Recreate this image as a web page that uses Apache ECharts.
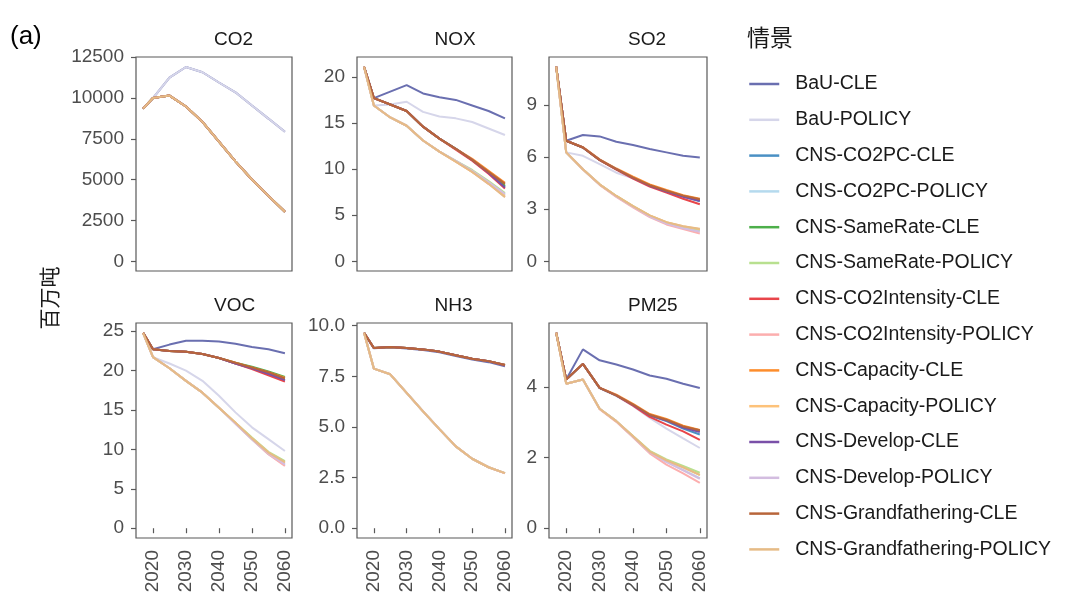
<!DOCTYPE html>
<html><head><meta charset="utf-8">
<script src="https://cdn.jsdelivr.net/npm/echarts@6/dist/echarts.min.js"></script>
<style>html,body{margin:0;padding:0;background:#fff}#c{width:1071px;height:601px}</style>
</head><body><div id="c"></div><script>
const years = [2017, 2020, 2025, 2030, 2035, 2040, 2045, 2050, 2055, 2060];
const xTicks = [2020, 2030, 2040, 2050, 2060];
const scenarios = ['BaU-CLE','BaU-POLICY','CNS-CO2PC-CLE','CNS-CO2PC-POLICY','CNS-SameRate-CLE','CNS-SameRate-POLICY','CNS-CO2Intensity-CLE','CNS-CO2Intensity-POLICY','CNS-Capacity-CLE','CNS-Capacity-POLICY','CNS-Develop-CLE','CNS-Develop-POLICY','CNS-Grandfathering-CLE','CNS-Grandfathering-POLICY'];
const colors = ['#6a6fb0','#d6d6ea','#4a90c4','#b5daee','#4daf4a','#b8e08f','#e8454a','#fcaeae','#fd8d2c','#fdc27a','#7a50a8','#d3bde0','#b8653a','#e6bb86'];
const panels = ['CO2','NOX','SO2','VOC','NH3','PM25'];
const yTicks = {
  CO2: [0, 2500, 5000, 7500, 10000, 12500],
  NOX: [0, 5, 10, 15, 20],
  SO2: [0, 3, 6, 9],
  VOC: [0, 5, 10, 15, 20, 25],
  NH3: [0, 2.5, 5, 7.5, 10],
  PM25: [0, 2, 4]
};

// values per scenario (same order as scenarios), per year
const CO2 = [
  [9350,10000,11250,11900,11580,10950,10350,9540,8740,7930],
  [9350,10000,11250,11900,11580,10950,10350,9540,8740,7930],
  [9350,10000,10150,9480,8540,7330,6120,5010,4005,3040],
  [9350,10000,10150,9480,8540,7330,6120,5010,4005,3040],
  [9350,10000,10150,9480,8540,7330,6120,5010,4005,3040],
  [9350,10000,10150,9480,8540,7330,6120,5010,4005,3040],
  [9350,10000,10150,9480,8540,7330,6120,5010,4005,3040],
  [9350,10000,10150,9480,8540,7330,6120,5010,4005,3040],
  [9350,10000,10150,9480,8540,7330,6120,5010,4005,3040],
  [9350,10000,10150,9480,8540,7330,6120,5010,4005,3040],
  [9350,10000,10150,9480,8540,7330,6120,5010,4005,3040],
  [9350,10000,10150,9480,8540,7330,6120,5010,4005,3040],
  [9350,10000,10150,9480,8540,7330,6120,5010,4005,3040],
  [9350,10000,10150,9480,8540,7330,6120,5010,4005,3040]
];
const NOX = [
  [21.1,17.7,18.4,19.1,18.2,17.8,17.5,16.9,16.3,15.5],
  [21.1,16.9,17.0,17.3,16.2,15.7,15.5,15.1,14.4,13.7],
  [21.1,17.7,17.0,16.3,14.6,13.3,12.2,11.0,9.6,8.1],
  [21.1,16.9,15.6,14.7,13.1,11.9,10.9,9.8,8.6,7.2],
  [21.1,17.7,17.0,16.3,14.6,13.3,12.2,11.0,9.7,8.2],
  [21.1,16.9,15.6,14.7,13.1,11.9,10.9,9.9,8.7,7.4],
  [21.1,17.7,17.0,16.3,14.6,13.3,12.1,10.9,9.5,7.9],
  [21.1,16.9,15.6,14.7,13.1,11.9,10.8,9.7,8.4,7.0],
  [21.1,17.7,17.0,16.3,14.6,13.3,12.2,11.1,9.8,8.5],
  [21.1,16.9,15.6,14.7,13.1,11.9,10.8,9.7,8.5,7.1],
  [21.1,17.7,17.0,16.3,14.6,13.3,12.2,11.0,9.6,8.0],
  [21.1,16.9,15.6,14.7,13.1,11.9,10.9,9.8,8.6,7.3],
  [21.1,17.7,17.0,16.3,14.6,13.3,12.2,11.0,9.7,8.4],
  [21.1,16.9,15.6,14.7,13.1,11.9,10.8,9.7,8.4,6.95]
];
const SO2 = [
  [11.2,6.94,7.27,7.19,6.88,6.69,6.46,6.27,6.07,5.98],
  [11.2,6.27,6.07,5.59,5.1,4.78,4.35,4.02,3.74,3.52],
  [11.2,6.94,6.55,5.84,5.3,4.82,4.36,4.02,3.72,3.45],
  [11.2,6.27,5.3,4.42,3.74,3.15,2.6,2.2,1.95,1.75],
  [11.2,6.94,6.55,5.84,5.3,4.82,4.38,4.05,3.75,3.52],
  [11.2,6.27,5.3,4.43,3.76,3.17,2.63,2.23,1.98,1.8],
  [11.2,6.94,6.55,5.82,5.27,4.76,4.3,3.95,3.6,3.28],
  [11.2,6.27,5.28,4.4,3.7,3.1,2.54,2.12,1.85,1.6],
  [11.2,6.94,6.57,5.87,5.34,4.87,4.43,4.1,3.8,3.6],
  [11.2,6.27,5.3,4.43,3.76,3.18,2.64,2.25,2.02,1.85],
  [11.2,6.94,6.55,5.84,5.3,4.8,4.35,4.02,3.72,3.48],
  [11.2,6.27,5.3,4.42,3.73,3.14,2.58,2.17,1.9,1.7],
  [11.2,6.94,6.55,5.84,5.3,4.82,4.38,4.06,3.78,3.57],
  [11.2,6.27,5.3,4.43,3.76,3.18,2.64,2.25,2.02,1.87]
];
const VOC = [
  [24.8,22.7,23.3,23.8,23.8,23.7,23.4,23.0,22.7,22.2],
  [24.8,21.7,20.9,20.0,18.7,16.8,14.7,12.8,11.3,9.8],
  [24.8,22.7,22.5,22.4,22.1,21.6,20.9,20.3,19.6,18.8],
  [24.8,21.7,20.3,18.7,17.2,15.3,13.3,11.3,9.4,8.0],
  [24.8,22.7,22.5,22.4,22.1,21.6,21.0,20.5,19.9,19.2],
  [24.8,21.7,20.3,18.7,17.2,15.3,13.4,11.5,9.7,8.5],
  [24.8,22.7,22.5,22.4,22.1,21.6,20.9,20.2,19.4,18.6],
  [24.8,21.7,20.3,18.7,17.2,15.3,13.3,11.3,9.4,7.9],
  [24.8,22.7,22.5,22.4,22.1,21.6,21.0,20.4,19.8,19.1],
  [24.8,21.7,20.3,18.7,17.2,15.3,13.4,11.4,9.6,8.3],
  [24.8,22.7,22.5,22.4,22.1,21.6,20.9,20.3,19.6,18.8],
  [24.8,21.7,20.3,18.7,17.2,15.3,13.3,11.3,9.5,8.1],
  [24.8,22.7,22.5,22.4,22.1,21.6,21.0,20.4,19.8,19.0],
  [24.8,21.7,20.3,18.7,17.2,15.3,13.4,11.4,9.6,8.4]
];
const NH3 = [
  [9.65,8.88,8.93,8.87,8.8,8.69,8.5,8.33,8.2,8.0],
  [9.65,7.88,7.6,6.68,5.77,4.89,4.04,3.43,3.01,2.72],
  [9.65,8.9,8.95,8.9,8.83,8.72,8.54,8.37,8.25,8.06],
  [9.65,7.88,7.6,6.68,5.77,4.89,4.04,3.43,3.01,2.72],
  [9.65,8.9,8.95,8.9,8.83,8.72,8.54,8.37,8.25,8.06],
  [9.65,7.88,7.6,6.68,5.77,4.89,4.04,3.43,3.01,2.72],
  [9.65,8.9,8.95,8.9,8.83,8.72,8.54,8.37,8.25,8.05],
  [9.65,7.88,7.6,6.68,5.77,4.89,4.04,3.43,3.01,2.71],
  [9.65,8.9,8.95,8.9,8.83,8.72,8.54,8.37,8.25,8.07],
  [9.65,7.88,7.6,6.68,5.77,4.89,4.04,3.43,3.01,2.72],
  [9.65,8.9,8.95,8.9,8.83,8.72,8.54,8.37,8.25,8.06],
  [9.65,7.88,7.6,6.68,5.77,4.89,4.04,3.43,3.01,2.72],
  [9.65,8.9,8.95,8.9,8.83,8.72,8.54,8.37,8.25,8.06],
  [9.65,7.88,7.6,6.68,5.77,4.89,4.04,3.43,3.01,2.72]
];
const PM25 = [
  [5.53,4.21,5.06,4.75,4.63,4.49,4.32,4.23,4.09,3.97],
  [5.53,4.2,4.64,3.96,3.74,3.46,3.12,2.82,2.54,2.27],
  [5.53,4.21,4.65,3.97,3.76,3.49,3.19,3.03,2.82,2.65],
  [5.53,4.09,4.21,3.38,3.03,2.59,2.15,1.88,1.65,1.42],
  [5.53,4.21,4.65,3.97,3.76,3.5,3.21,3.07,2.88,2.75],
  [5.53,4.09,4.21,3.38,3.03,2.61,2.19,1.95,1.76,1.57],
  [5.53,4.21,4.65,3.97,3.76,3.47,3.15,2.93,2.74,2.5],
  [5.53,4.09,4.21,3.37,3.01,2.57,2.12,1.8,1.55,1.28],
  [5.53,4.21,4.65,3.98,3.78,3.52,3.23,3.09,2.9,2.78],
  [5.53,4.09,4.21,3.38,3.03,2.6,2.17,1.92,1.72,1.5],
  [5.53,4.21,4.65,3.97,3.76,3.49,3.2,3.05,2.85,2.72],
  [5.53,4.09,4.21,3.38,3.03,2.59,2.15,1.88,1.64,1.4],
  [5.53,4.21,4.65,3.97,3.76,3.5,3.21,3.07,2.88,2.77],
  [5.53,4.09,4.21,3.38,3.03,2.6,2.17,1.92,1.72,1.51]
];
const panelData = { CO2, NOX, SO2, VOC, NH3, PM25 };

// layout
const gLeft = [136, 357, 549], gRight = [292, 512, 707];
const gTop = [57, 323], gBottom = [271, 538];
const FONT = '"Liberation Sans", Arial, sans-serif';

const grid = [], xAxis = [], yAxis = [], series = [], graphic = [];
panels.forEach((p, i) => {
  const r = Math.floor(i / 3), c = i % 3;
  grid.push({ left: gLeft[c], top: gTop[r], width: gRight[c] - gLeft[c], height: gBottom[r] - gTop[r],
    show: true, borderColor: '#595959', borderWidth: 1.2, backgroundColor: '#fff' });
  const xr = [Math.min(...years), Math.max(...years)];
  const xPad = (xr[1] - xr[0]) * 0.05;
  xAxis.push({ type: 'value', gridIndex: i, min: xr[0] - xPad, max: xr[1] + xPad,
    axisLine: { show: false }, splitLine: { show: false },
    axisTick: { show: r === 1, length: 5, customValues: xTicks, lineStyle: { color: '#595959', width: 1.2 } },
    axisLabel: { show: r === 1, customValues: xTicks, rotate: 90, margin: 12, color: '#4d4d4d', fontSize: 19, fontFamily: FONT,
      formatter: v => String(v) }
  });
  const all = panelData[p].flat();
  const lo = Math.min(0, ...all), hi = Math.max(...all);
  const yPad = (hi - lo) * 0.05;
  const topTick = yTicks[p][yTicks[p].length - 1];
  yAxis.push({ type: 'value', gridIndex: i, min: lo - yPad, max: Math.max(hi + yPad, topTick * 1.001),
    axisLine: { show: false }, splitLine: { show: false },
    axisTick: { show: true, length: 5, customValues: yTicks[p], lineStyle: { color: '#595959', width: 1.2 } },
    axisLabel: { customValues: yTicks[p], margin: 12, color: '#4d4d4d', fontSize: 19, fontFamily: FONT,
      formatter: p === 'NH3' ? (v => Number(v).toFixed(1)) : (v => String(v)) }
  });
  panelData[p].forEach((vals, k) => {
    series.push({ name: scenarios[k], type: 'line', xAxisIndex: i, yAxisIndex: i,
      data: years.map((y, j) => [y, vals[j]]), symbol: 'none', silent: true,
      lineStyle: { color: colors[k], width: 2 }, itemStyle: { color: colors[k] } });
  });
  graphic.push({ type: 'text', left: (gLeft[c] + gRight[c]) / 2, top: r === 0 ? 30 : 296,
    style: { text: p, fill: '#1a1a1a', font: '19px ' + FONT, textAlign: 'center' } });
});
graphic.push({ type: 'text', left: 10, top: 24, style: { text: '(a)', fill: '#000', font: '26px ' + FONT } });
graphic.push({ type: 'text', x: 49, y: 298, rotation: Math.PI / 2,
  style: { text: '百万吨', fill: '#1a1a1a', font: '21px "Noto Sans CJK SC"', textAlign: 'center', textVerticalAlign: 'middle' } });
graphic.push({ type: 'text', left: 747, top: 26, style: { text: '情景', fill: '#1a1a1a', font: '23px "Noto Sans CJK SC"' } });

const chart = echarts.init(document.getElementById('c'), null, { renderer: 'canvas' });
chart.setOption({
  animation: false,
  backgroundColor: '#fff',
  grid, xAxis, yAxis, series, graphic,
  legend: { orient: 'vertical', left: 748, top: 74, padding: 0, itemWidth: 30, itemHeight: 18, itemGap: 15.8,
    data: scenarios, selectedMode: false,
    itemStyle: { opacity: 0 }, lineStyle: { width: 2.5 },
    textStyle: { fontSize: 19.5, lineHeight: 18, color: '#1a1a1a', fontFamily: FONT, padding: [0, 0, 0, 11] } }
});
</script></body></html>
